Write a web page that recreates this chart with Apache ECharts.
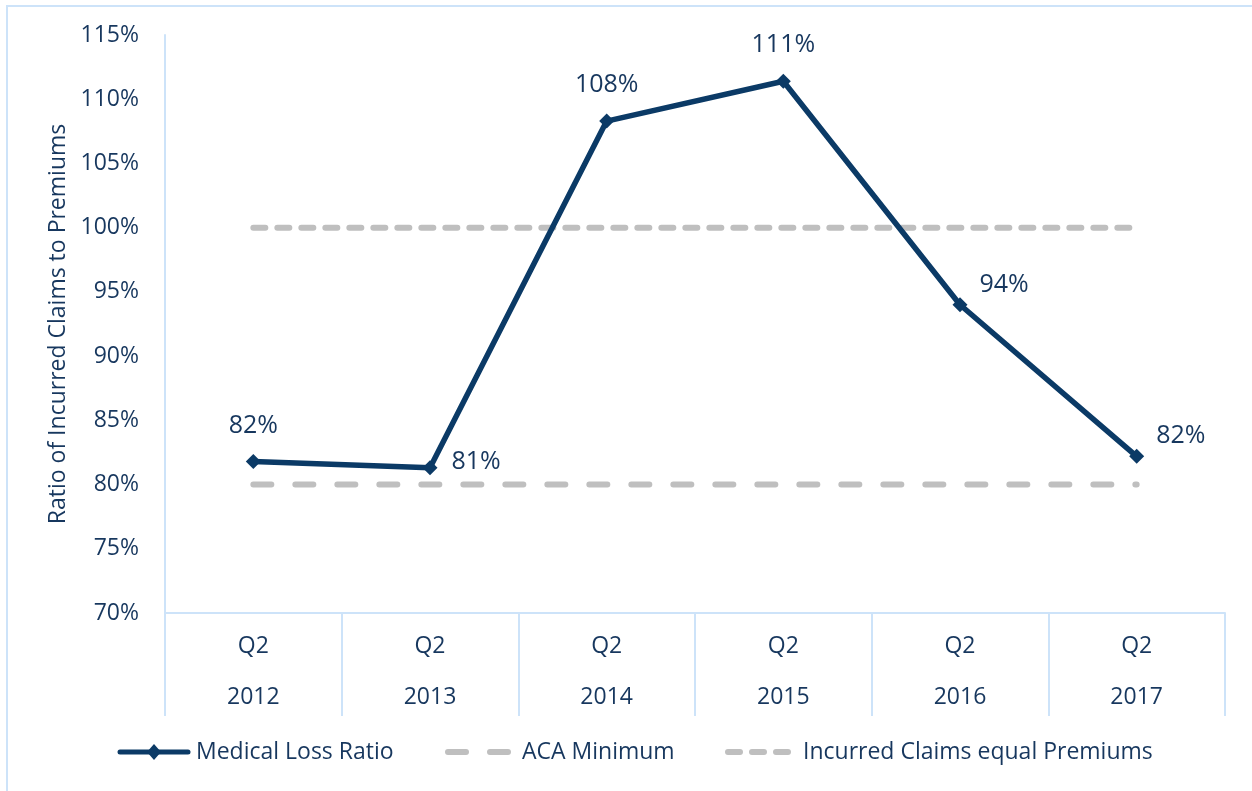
<!DOCTYPE html>
<html><head><meta charset="utf-8">
<script src="https://cdn.jsdelivr.net/npm/echarts@6/dist/echarts.min.js"></script>
<style>html,body{margin:0;padding:0;background:#fff}#c{width:1252px;height:791px}</style>
</head><body><div id="c"></div>
<script>
const quarters = ['Q2','Q2','Q2','Q2','Q2','Q2'];
const years = ['2012','2013','2014','2015','2016','2017'];
const medicalLossRatio = [81.8, 81.3, 108.3, 111.4, 94.0, 82.2];
const acaMinimum = [80, 80, 80, 80, 80, 80];
const claimsEqualPremiums = [100, 100, 100, 100, 100, 100];
const yTicks = {min: 70, max: 115, step: 5};
const seriesNames = ['Medical Loss Ratio', 'ACA Minimum', 'Incurred Claims equal Premiums'];

const FONT = 'Open Sans';
const TXT = '#17375e';
const NAVY = '#0b3a66';
const GRAY = '#bfbfbf';
const AXIS = '#cde3f9';
const FS = 23;

const categories = quarters.map((q, i) => q + '\n' + years[i]);
const labelPos = [
  {position: 'top', distance: 16},
  {position: 'right', distance: 14, offset: [0, -6]},
  {position: 'top', distance: 16},
  {position: 'top', distance: 16},
  {position: 'right', distance: 12, offset: [0, -20]},
  {position: 'right', distance: 12, offset: [0, -20]}
];

// legend drawn as graphic elements (icons + real text)
const LY = 752;
const legendGraphic = [
  {type: 'line', shape: {x1: 120, y1: LY, x2: 188, y2: LY}, style: {stroke: NAVY, lineWidth: 5, lineCap: 'round'}},
  {type: 'polygon', shape: {points: [[154, LY - 8], [161, LY], [154, LY + 8], [147, LY]]}, style: {fill: NAVY}},
  {type: 'text', x: 196, y: LY, style: {text: seriesNames[0], font: FS + 'px "' + FONT + '"', fill: TXT, textVerticalAlign: 'middle', verticalAlign: 'middle'}},
  {type: 'line', shape: {x1: 448, y1: LY, x2: 508, y2: LY}, style: {stroke: GRAY, lineWidth: 6, lineCap: 'round', lineDash: [18, 24]}},
  {type: 'text', x: 522, y: LY, style: {text: seriesNames[1], font: FS + 'px "' + FONT + '"', fill: TXT, textVerticalAlign: 'middle', verticalAlign: 'middle'}},
  {type: 'line', shape: {x1: 728, y1: LY, x2: 788, y2: LY}, style: {stroke: GRAY, lineWidth: 6, lineCap: 'round', lineDash: [12, 12]}},
  {type: 'text', x: 803, y: LY, style: {text: seriesNames[2], font: FS + 'px "' + FONT + '"', fill: TXT, textVerticalAlign: 'middle', verticalAlign: 'middle'}}
];

const chart = echarts.init(document.getElementById('c'), null, {renderer: 'canvas'});
chart.setOption({
  animation: false,
  textStyle: {fontFamily: FONT, color: TXT},
  graphic: [{type: 'rect', shape: {x: 7, y: 6, width: 1400, height: 900}, style: {fill: 'none', stroke: AXIS, lineWidth: 2}, silent: true, z: -1}].concat(legendGraphic),
  grid: {left: 165, right: 27, top: 35, bottom: 178},
  legend: {show: false},
  xAxis: {
    type: 'category', data: categories, boundaryGap: true,
    axisLine: {show: true, lineStyle: {color: AXIS, width: 2}},
    axisTick: {show: true, interval: 0, length: 103, lineStyle: {color: AXIS, width: 2}},
    axisLabel: {interval: 0, margin: 8, fontFamily: FONT, fontSize: FS, color: TXT, lineHeight: 51},
    splitLine: {show: false}
  },
  yAxis: {
    type: 'value', min: yTicks.min, max: yTicks.max, interval: yTicks.step,
    name: 'Ratio of Incurred Claims to Premiums', nameLocation: 'middle', nameGap: 93,
    nameTextStyle: {fontFamily: FONT, fontSize: FS, color: TXT},
    axisLine: {show: true, lineStyle: {color: AXIS, width: 2}},
    axisTick: {show: false},
    axisLabel: {formatter: '{value}%', margin: 26, fontFamily: FONT, fontSize: FS, color: TXT},
    splitLine: {show: false}
  },
  series: [
    {
      name: seriesNames[1], type: 'line', data: acaMinimum, showSymbol: false, symbol: 'none', z: 1,
      lineStyle: {color: GRAY, width: 6, type: [18, 24], cap: 'round'}, itemStyle: {color: GRAY}
    },
    {
      name: seriesNames[2], type: 'line', data: claimsEqualPremiums, showSymbol: false, symbol: 'none', z: 1,
      lineStyle: {color: GRAY, width: 6, type: [12, 12], cap: 'round'}, itemStyle: {color: GRAY}
    },
    {
      name: seriesNames[0], type: 'line', z: 3,
      data: medicalLossRatio.map((v, i) => ({value: v, label: labelPos[i]})),
      symbol: 'diamond', symbolSize: 15,
      lineStyle: {color: NAVY, width: 5.5, cap: 'round', join: 'round'},
      itemStyle: {color: NAVY},
      label: {show: true, fontFamily: FONT, fontSize: 25, color: TXT,
        formatter: p => Math.round(p.value) + '%'}
    }
  ]
});
</script></body></html>
